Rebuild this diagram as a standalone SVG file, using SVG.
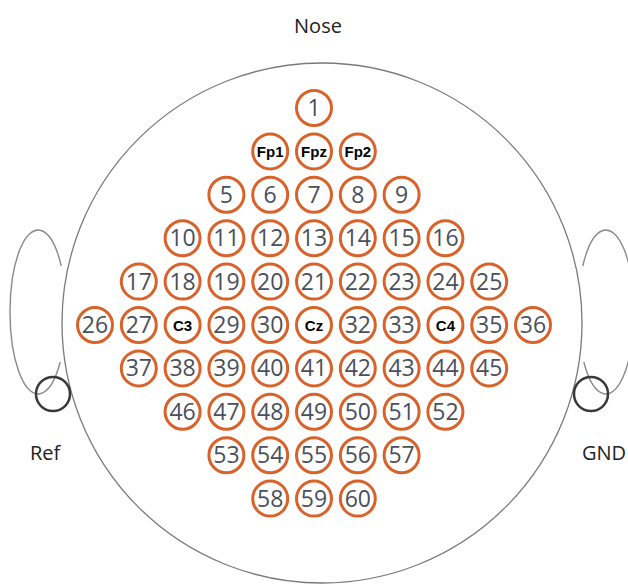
<svg xmlns="http://www.w3.org/2000/svg" width="628" height="585" viewBox="0 0 628 585">
<style>
.head{fill:none;stroke:#7a7a7a;stroke-width:1.3}
.ear{fill:none;stroke:#8a8a8a;stroke-width:1.4}
.gnd{fill:none;stroke:#3a3a3a;stroke-width:2.5}
.el circle{fill:#fff;stroke:#d9622b;stroke-width:3}
.el text{font-family:"Open Sans","Noto Sans",sans-serif;font-size:23px;fill:#4a4f5c;text-anchor:middle}
.el text.b{font-family:"Liberation Sans",Arial,sans-serif;font-weight:bold;font-size:15px;fill:#000}
.lbl{font-family:"Open Sans","Noto Sans",sans-serif;font-size:20px;fill:#222}
</style>
<rect width="628" height="585" fill="#fff"/>
<g id="head">
<path class="ear" d="M 61.2,266 A 28 82 0 1 0 60.2,362"/>
<path class="ear" d="M 582.8,266 A 28 82 0 1 1 583.8,362"/>
<circle class="head" cx="322" cy="323" r="260"/>
<circle id="ref" class="gnd" cx="53" cy="394" r="17"/>
<circle id="gnd" class="gnd" cx="591" cy="394" r="17"/>
</g>
<text class="lbl" x="318" y="33" text-anchor="middle">Nose</text>
<text class="lbl" x="30" y="460">Ref</text>
<text class="lbl" x="582" y="460">GND</text>
<g id="e1" class="el" transform="translate(314,108)"><circle r="17.5"/><text y="8">1</text></g>
<g id="Fp1" class="el" transform="translate(270.2,151.4)"><circle r="17.5"/><text class="b" y="5.5">Fp1</text></g>
<g id="Fpz" class="el" transform="translate(314,151.4)"><circle r="17.5"/><text class="b" y="5.5">Fpz</text></g>
<g id="Fp2" class="el" transform="translate(357.8,151.4)"><circle r="17.5"/><text class="b" y="5.5">Fp2</text></g>
<g id="e5" class="el" transform="translate(226.4,194.8)"><circle r="17.5"/><text y="8">5</text></g>
<g id="e6" class="el" transform="translate(270.2,194.8)"><circle r="17.5"/><text y="8">6</text></g>
<g id="e7" class="el" transform="translate(314,194.8)"><circle r="17.5"/><text y="8">7</text></g>
<g id="e8" class="el" transform="translate(357.8,194.8)"><circle r="17.5"/><text y="8">8</text></g>
<g id="e9" class="el" transform="translate(401.6,194.8)"><circle r="17.5"/><text y="8">9</text></g>
<g id="e10" class="el" transform="translate(182.6,238.2)"><circle r="17.5"/><text y="8">10</text></g>
<g id="e11" class="el" transform="translate(226.4,238.2)"><circle r="17.5"/><text y="8">11</text></g>
<g id="e12" class="el" transform="translate(270.2,238.2)"><circle r="17.5"/><text y="8">12</text></g>
<g id="e13" class="el" transform="translate(314,238.2)"><circle r="17.5"/><text y="8">13</text></g>
<g id="e14" class="el" transform="translate(357.8,238.2)"><circle r="17.5"/><text y="8">14</text></g>
<g id="e15" class="el" transform="translate(401.6,238.2)"><circle r="17.5"/><text y="8">15</text></g>
<g id="e16" class="el" transform="translate(445.4,238.2)"><circle r="17.5"/><text y="8">16</text></g>
<g id="e17" class="el" transform="translate(138.8,281.6)"><circle r="17.5"/><text y="8">17</text></g>
<g id="e18" class="el" transform="translate(182.6,281.6)"><circle r="17.5"/><text y="8">18</text></g>
<g id="e19" class="el" transform="translate(226.4,281.6)"><circle r="17.5"/><text y="8">19</text></g>
<g id="e20" class="el" transform="translate(270.2,281.6)"><circle r="17.5"/><text y="8">20</text></g>
<g id="e21" class="el" transform="translate(314,281.6)"><circle r="17.5"/><text y="8">21</text></g>
<g id="e22" class="el" transform="translate(357.8,281.6)"><circle r="17.5"/><text y="8">22</text></g>
<g id="e23" class="el" transform="translate(401.6,281.6)"><circle r="17.5"/><text y="8">23</text></g>
<g id="e24" class="el" transform="translate(445.4,281.6)"><circle r="17.5"/><text y="8">24</text></g>
<g id="e25" class="el" transform="translate(489.2,281.6)"><circle r="17.5"/><text y="8">25</text></g>
<g id="e26" class="el" transform="translate(95,325)"><circle r="17.5"/><text y="8">26</text></g>
<g id="e27" class="el" transform="translate(138.8,325)"><circle r="17.5"/><text y="8">27</text></g>
<g id="C3" class="el" transform="translate(182.6,325)"><circle r="17.5"/><text class="b" y="5.5">C3</text></g>
<g id="e29" class="el" transform="translate(226.4,325)"><circle r="17.5"/><text y="8">29</text></g>
<g id="e30" class="el" transform="translate(270.2,325)"><circle r="17.5"/><text y="8">30</text></g>
<g id="Cz" class="el" transform="translate(314,325)"><circle r="17.5"/><text class="b" y="5.5">Cz</text></g>
<g id="e32" class="el" transform="translate(357.8,325)"><circle r="17.5"/><text y="8">32</text></g>
<g id="e33" class="el" transform="translate(401.6,325)"><circle r="17.5"/><text y="8">33</text></g>
<g id="C4" class="el" transform="translate(445.4,325)"><circle r="17.5"/><text class="b" y="5.5">C4</text></g>
<g id="e35" class="el" transform="translate(489.2,325)"><circle r="17.5"/><text y="8">35</text></g>
<g id="e36" class="el" transform="translate(533,325)"><circle r="17.5"/><text y="8">36</text></g>
<g id="e37" class="el" transform="translate(138.8,368.4)"><circle r="17.5"/><text y="8">37</text></g>
<g id="e38" class="el" transform="translate(182.6,368.4)"><circle r="17.5"/><text y="8">38</text></g>
<g id="e39" class="el" transform="translate(226.4,368.4)"><circle r="17.5"/><text y="8">39</text></g>
<g id="e40" class="el" transform="translate(270.2,368.4)"><circle r="17.5"/><text y="8">40</text></g>
<g id="e41" class="el" transform="translate(314,368.4)"><circle r="17.5"/><text y="8">41</text></g>
<g id="e42" class="el" transform="translate(357.8,368.4)"><circle r="17.5"/><text y="8">42</text></g>
<g id="e43" class="el" transform="translate(401.6,368.4)"><circle r="17.5"/><text y="8">43</text></g>
<g id="e44" class="el" transform="translate(445.4,368.4)"><circle r="17.5"/><text y="8">44</text></g>
<g id="e45" class="el" transform="translate(489.2,368.4)"><circle r="17.5"/><text y="8">45</text></g>
<g id="e46" class="el" transform="translate(182.6,411.8)"><circle r="17.5"/><text y="8">46</text></g>
<g id="e47" class="el" transform="translate(226.4,411.8)"><circle r="17.5"/><text y="8">47</text></g>
<g id="e48" class="el" transform="translate(270.2,411.8)"><circle r="17.5"/><text y="8">48</text></g>
<g id="e49" class="el" transform="translate(314,411.8)"><circle r="17.5"/><text y="8">49</text></g>
<g id="e50" class="el" transform="translate(357.8,411.8)"><circle r="17.5"/><text y="8">50</text></g>
<g id="e51" class="el" transform="translate(401.6,411.8)"><circle r="17.5"/><text y="8">51</text></g>
<g id="e52" class="el" transform="translate(445.4,411.8)"><circle r="17.5"/><text y="8">52</text></g>
<g id="e53" class="el" transform="translate(226.4,455.2)"><circle r="17.5"/><text y="8">53</text></g>
<g id="e54" class="el" transform="translate(270.2,455.2)"><circle r="17.5"/><text y="8">54</text></g>
<g id="e55" class="el" transform="translate(314,455.2)"><circle r="17.5"/><text y="8">55</text></g>
<g id="e56" class="el" transform="translate(357.8,455.2)"><circle r="17.5"/><text y="8">56</text></g>
<g id="e57" class="el" transform="translate(401.6,455.2)"><circle r="17.5"/><text y="8">57</text></g>
<g id="e58" class="el" transform="translate(270.2,498.6)"><circle r="17.5"/><text y="8">58</text></g>
<g id="e59" class="el" transform="translate(314,498.6)"><circle r="17.5"/><text y="8">59</text></g>
<g id="e60" class="el" transform="translate(357.8,498.6)"><circle r="17.5"/><text y="8">60</text></g>
</svg>
